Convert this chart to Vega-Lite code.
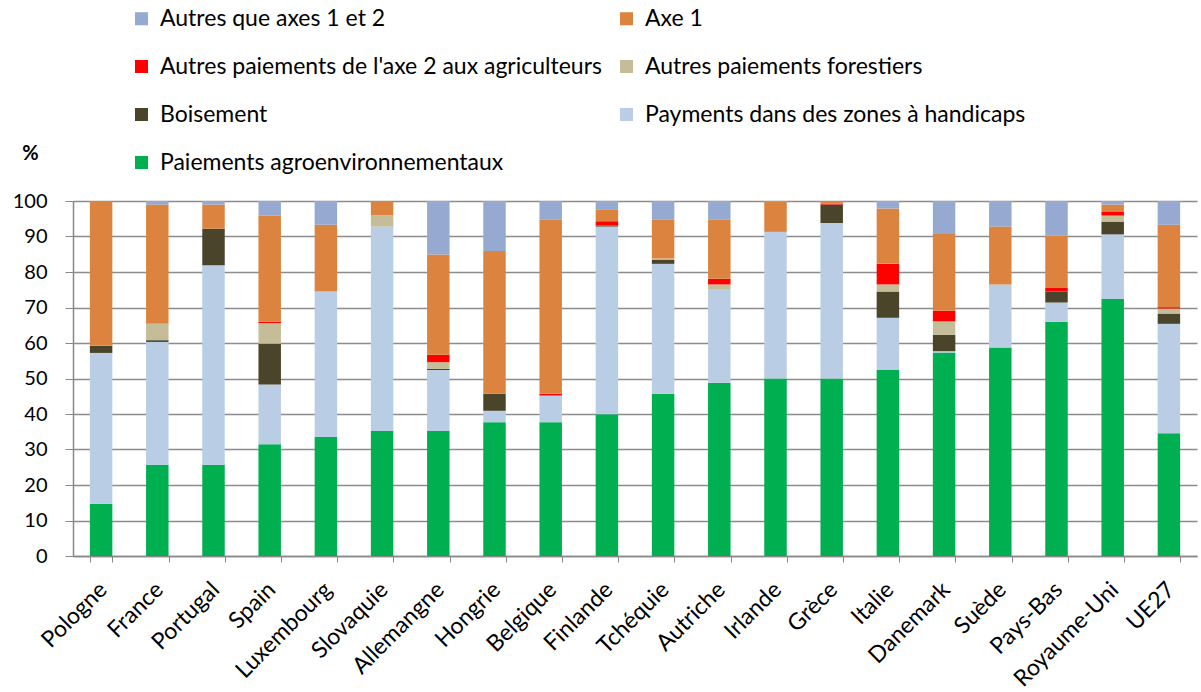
{
  "$schema": "https://vega.github.io/schema/vega-lite/v6.json",
  "width": 1124,
  "height": 355,
  "autosize": {"type": "none"},
  "padding": {"left": 73, "top": 201, "right": 4, "bottom": 136},
  "background": "#ffffff",
  "config": {
    "font": "Lato",
    "view": {"stroke": null}
  },
  "data": {
    "values": [
      {"pays": "Pologne", "cat": "Paiements agroenvironnementaux", "v": 14.7},
      {"pays": "Pologne", "cat": "Payments dans des zones à handicaps", "v": 42.5},
      {"pays": "Pologne", "cat": "Boisement", "v": 2.0},
      {"pays": "Pologne", "cat": "Axe 1", "v": 40.8},
      {"pays": "France", "cat": "Paiements agroenvironnementaux", "v": 25.7},
      {"pays": "France", "cat": "Payments dans des zones à handicaps", "v": 34.6},
      {"pays": "France", "cat": "Boisement", "v": 0.5},
      {"pays": "France", "cat": "Autres paiements forestiers", "v": 4.6},
      {"pays": "France", "cat": "Axe 1", "v": 33.6},
      {"pays": "France", "cat": "Autres que axes 1 et 2", "v": 1.0},
      {"pays": "Portugal", "cat": "Paiements agroenvironnementaux", "v": 25.7},
      {"pays": "Portugal", "cat": "Payments dans des zones à handicaps", "v": 56.2},
      {"pays": "Portugal", "cat": "Boisement", "v": 10.3},
      {"pays": "Portugal", "cat": "Axe 1", "v": 6.8},
      {"pays": "Portugal", "cat": "Autres que axes 1 et 2", "v": 1.0},
      {"pays": "Spain", "cat": "Paiements agroenvironnementaux", "v": 31.5},
      {"pays": "Spain", "cat": "Payments dans des zones à handicaps", "v": 16.8},
      {"pays": "Spain", "cat": "Boisement", "v": 11.5},
      {"pays": "Spain", "cat": "Autres paiements forestiers", "v": 5.8},
      {"pays": "Spain", "cat": "Autres paiements de l'axe 2 aux agriculteurs", "v": 0.4},
      {"pays": "Spain", "cat": "Axe 1", "v": 29.9},
      {"pays": "Spain", "cat": "Autres que axes 1 et 2", "v": 4.1},
      {"pays": "Luxembourg", "cat": "Paiements agroenvironnementaux", "v": 33.5},
      {"pays": "Luxembourg", "cat": "Payments dans des zones à handicaps", "v": 41.0},
      {"pays": "Luxembourg", "cat": "Axe 1", "v": 18.8},
      {"pays": "Luxembourg", "cat": "Autres que axes 1 et 2", "v": 6.7},
      {"pays": "Slovaquie", "cat": "Paiements agroenvironnementaux", "v": 35.2},
      {"pays": "Slovaquie", "cat": "Payments dans des zones à handicaps", "v": 57.6},
      {"pays": "Slovaquie", "cat": "Autres paiements forestiers", "v": 3.2},
      {"pays": "Slovaquie", "cat": "Axe 1", "v": 4.0},
      {"pays": "Allemangne", "cat": "Paiements agroenvironnementaux", "v": 35.2},
      {"pays": "Allemangne", "cat": "Payments dans des zones à handicaps", "v": 17.2},
      {"pays": "Allemangne", "cat": "Boisement", "v": 0.3},
      {"pays": "Allemangne", "cat": "Autres paiements forestiers", "v": 1.9},
      {"pays": "Allemangne", "cat": "Autres paiements de l'axe 2 aux agriculteurs", "v": 2.1},
      {"pays": "Allemangne", "cat": "Axe 1", "v": 28.2},
      {"pays": "Allemangne", "cat": "Autres que axes 1 et 2", "v": 15.1},
      {"pays": "Hongrie", "cat": "Paiements agroenvironnementaux", "v": 37.7},
      {"pays": "Hongrie", "cat": "Payments dans des zones à handicaps", "v": 3.2},
      {"pays": "Hongrie", "cat": "Boisement", "v": 4.8},
      {"pays": "Hongrie", "cat": "Axe 1", "v": 40.2},
      {"pays": "Hongrie", "cat": "Autres que axes 1 et 2", "v": 14.1},
      {"pays": "Belgique", "cat": "Paiements agroenvironnementaux", "v": 37.7},
      {"pays": "Belgique", "cat": "Payments dans des zones à handicaps", "v": 7.5},
      {"pays": "Belgique", "cat": "Autres paiements de l'axe 2 aux agriculteurs", "v": 0.5},
      {"pays": "Belgique", "cat": "Axe 1", "v": 49.0},
      {"pays": "Belgique", "cat": "Autres que axes 1 et 2", "v": 5.3},
      {"pays": "Finlande", "cat": "Paiements agroenvironnementaux", "v": 39.9},
      {"pays": "Finlande", "cat": "Payments dans des zones à handicaps", "v": 52.9},
      {"pays": "Finlande", "cat": "Boisement", "v": 0.3},
      {"pays": "Finlande", "cat": "Autres paiements de l'axe 2 aux agriculteurs", "v": 1.2},
      {"pays": "Finlande", "cat": "Axe 1", "v": 3.2},
      {"pays": "Finlande", "cat": "Autres que axes 1 et 2", "v": 2.5},
      {"pays": "Tchéquie", "cat": "Paiements agroenvironnementaux", "v": 45.7},
      {"pays": "Tchéquie", "cat": "Payments dans des zones à handicaps", "v": 36.6},
      {"pays": "Tchéquie", "cat": "Boisement", "v": 1.2},
      {"pays": "Tchéquie", "cat": "Autres paiements forestiers", "v": 0.3},
      {"pays": "Tchéquie", "cat": "Axe 1", "v": 10.9},
      {"pays": "Tchéquie", "cat": "Autres que axes 1 et 2", "v": 5.3},
      {"pays": "Autriche", "cat": "Paiements agroenvironnementaux", "v": 48.8},
      {"pays": "Autriche", "cat": "Payments dans des zones à handicaps", "v": 26.2},
      {"pays": "Autriche", "cat": "Autres paiements forestiers", "v": 1.5},
      {"pays": "Autriche", "cat": "Autres paiements de l'axe 2 aux agriculteurs", "v": 1.6},
      {"pays": "Autriche", "cat": "Axe 1", "v": 16.6},
      {"pays": "Autriche", "cat": "Autres que axes 1 et 2", "v": 5.3},
      {"pays": "Irlande", "cat": "Paiements agroenvironnementaux", "v": 50.0},
      {"pays": "Irlande", "cat": "Payments dans des zones à handicaps", "v": 41.3},
      {"pays": "Irlande", "cat": "Axe 1", "v": 8.5},
      {"pays": "Irlande", "cat": "Autres que axes 1 et 2", "v": 0.2},
      {"pays": "Grèce", "cat": "Paiements agroenvironnementaux", "v": 50.0},
      {"pays": "Grèce", "cat": "Payments dans des zones à handicaps", "v": 43.8},
      {"pays": "Grèce", "cat": "Boisement", "v": 5.2},
      {"pays": "Grèce", "cat": "Autres paiements de l'axe 2 aux agriculteurs", "v": 0.2},
      {"pays": "Grèce", "cat": "Axe 1", "v": 0.8},
      {"pays": "Italie", "cat": "Paiements agroenvironnementaux", "v": 52.4},
      {"pays": "Italie", "cat": "Payments dans des zones à handicaps", "v": 14.7},
      {"pays": "Italie", "cat": "Boisement", "v": 7.4},
      {"pays": "Italie", "cat": "Autres paiements forestiers", "v": 2.0},
      {"pays": "Italie", "cat": "Autres paiements de l'axe 2 aux agriculteurs", "v": 5.8},
      {"pays": "Italie", "cat": "Axe 1", "v": 15.6},
      {"pays": "Italie", "cat": "Autres que axes 1 et 2", "v": 2.1},
      {"pays": "Danemark", "cat": "Paiements agroenvironnementaux", "v": 57.3},
      {"pays": "Danemark", "cat": "Payments dans des zones à handicaps", "v": 0.4},
      {"pays": "Danemark", "cat": "Boisement", "v": 4.6},
      {"pays": "Danemark", "cat": "Autres paiements forestiers", "v": 3.8},
      {"pays": "Danemark", "cat": "Autres paiements de l'axe 2 aux agriculteurs", "v": 3.0},
      {"pays": "Danemark", "cat": "Axe 1", "v": 21.6},
      {"pays": "Danemark", "cat": "Autres que axes 1 et 2", "v": 9.3},
      {"pays": "Suède", "cat": "Paiements agroenvironnementaux", "v": 58.7},
      {"pays": "Suède", "cat": "Payments dans des zones à handicaps", "v": 17.8},
      {"pays": "Suède", "cat": "Axe 1", "v": 16.3},
      {"pays": "Suède", "cat": "Autres que axes 1 et 2", "v": 7.2},
      {"pays": "Pays-Bas", "cat": "Paiements agroenvironnementaux", "v": 66.0},
      {"pays": "Pays-Bas", "cat": "Payments dans des zones à handicaps", "v": 5.4},
      {"pays": "Pays-Bas", "cat": "Boisement", "v": 3.1},
      {"pays": "Pays-Bas", "cat": "Autres paiements de l'axe 2 aux agriculteurs", "v": 1.0},
      {"pays": "Pays-Bas", "cat": "Axe 1", "v": 14.7},
      {"pays": "Pays-Bas", "cat": "Autres que axes 1 et 2", "v": 9.8},
      {"pays": "Royaume-Uni", "cat": "Paiements agroenvironnementaux", "v": 72.4},
      {"pays": "Royaume-Uni", "cat": "Payments dans des zones à handicaps", "v": 18.2},
      {"pays": "Royaume-Uni", "cat": "Boisement", "v": 3.6},
      {"pays": "Royaume-Uni", "cat": "Autres paiements forestiers", "v": 1.7},
      {"pays": "Royaume-Uni", "cat": "Autres paiements de l'axe 2 aux agriculteurs", "v": 1.0},
      {"pays": "Royaume-Uni", "cat": "Axe 1", "v": 2.1},
      {"pays": "Royaume-Uni", "cat": "Autres que axes 1 et 2", "v": 1.0},
      {"pays": "UE27", "cat": "Paiements agroenvironnementaux", "v": 34.6},
      {"pays": "UE27", "cat": "Payments dans des zones à handicaps", "v": 30.8},
      {"pays": "UE27", "cat": "Boisement", "v": 2.9},
      {"pays": "UE27", "cat": "Autres paiements forestiers", "v": 1.4},
      {"pays": "UE27", "cat": "Autres paiements de l'axe 2 aux agriculteurs", "v": 0.4},
      {"pays": "UE27", "cat": "Axe 1", "v": 23.2},
      {"pays": "UE27", "cat": "Autres que axes 1 et 2", "v": 6.7}
    ]
  },
  "transform": [
    {"calculate": "indexof(['Paiements agroenvironnementaux','Payments dans des zones à handicaps','Boisement','Autres paiements forestiers','Autres paiements de l\\'axe 2 aux agriculteurs','Axe 1','Autres que axes 1 et 2'], datum.cat)", "as": "rang"}
  ],
  "mark": {"type": "bar"},
  "encoding": {
    "x": {
      "field": "pays",
      "type": "nominal",
      "sort": null,
      "scale": {"paddingInner": 0.6, "paddingOuter": 0.3},
      "axis": {
        "title": null,
        "labelAngle": -45,
        "labelFontSize": 23,
        "labelColor": "#000000",
        "labelPadding": 16,
        "labelOffset": -6,
        "tickBand": "extent",
        "tickColor": "#888888",
        "tickSize": 6,
        "domainColor": "#888888",
        "domainWidth": 1.5,
        "grid": false
      }
    },
    "y": {
      "field": "v",
      "type": "quantitative",
      "stack": "zero",
      "scale": {"domain": [0, 100], "nice": false},
      "axis": {
        "title": "%",
        "titleAngle": 0,
        "titleFontSize": 20,
        "titleFontWeight": "bold",
        "titleColor": "#000000",
        "titleX": -43,
        "titleY": -38,
        "titleAlign": "center",
        "values": [0, 10, 20, 30, 40, 50, 60, 70, 80, 90, 100],
        "labelFontSize": 20,
        "labelColor": "#000000",
        "labelPadding": 18,
        "tickColor": "#888888",
        "tickSize": 8,
        "domainColor": "#888888",
        "domainWidth": 1.5,
        "gridColor": "#8c8c8c",
        "gridWidth": 1.5
      }
    },
    "order": {"field": "rang", "type": "quantitative", "sort": "ascending"},
    "color": {
      "field": "cat",
      "type": "nominal",
      "scale": {
        "domain": [
          "Autres que axes 1 et 2",
          "Axe 1",
          "Autres paiements de l'axe 2 aux agriculteurs",
          "Autres paiements forestiers",
          "Boisement",
          "Payments dans des zones à handicaps",
          "Paiements agroenvironnementaux"
        ],
        "range": ["#95A9D1", "#DC843F", "#FF0000", "#C4BD97", "#4A442A", "#B9CDE5", "#00B050"]
      },
      "legend": {
        "title": null,
        "orient": "none",
        "legendX": 57,
        "legendY": -194,
        "columns": 2,
        "direction": "horizontal",
        "labelFontSize": 23,
        "labelColor": "#000000",
        "labelLimit": 700,
        "symbolType": "square",
        "symbolSize": 170,
        "symbolStrokeWidth": 0,
        "symbolOpacity": 1,
        "labelOffset": 7,
        "rowPadding": 24,
        "columnPadding": 13
      }
    }
  }
}
